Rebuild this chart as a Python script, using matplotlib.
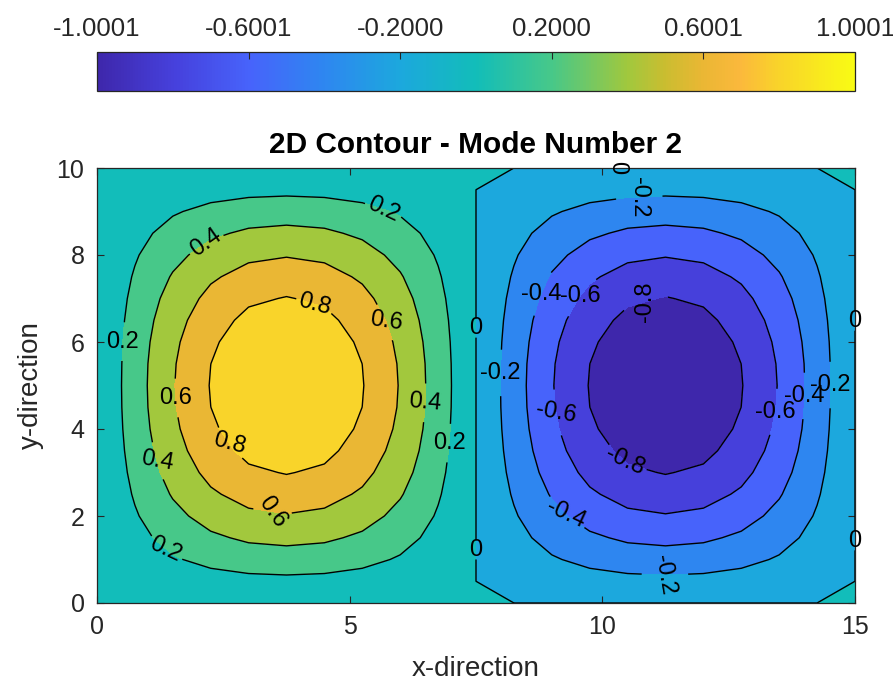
import matplotlib

matplotlib.use("Agg")
import matplotlib.pyplot as plt
import numpy as np
from matplotlib.cm import ScalarMappable
from matplotlib.colors import LinearSegmentedColormap, Normalize

# grid nodes of the mode shape (x every 0.75, y every 0.5)
x_nodes = [0.0, 0.75, 1.5, 2.25, 3.0, 3.75, 4.5, 5.25, 6.0, 6.75, 7.5,
           8.25, 9.0, 9.75, 10.5, 11.25, 12.0, 12.75, 13.5, 14.25, 15.0]
y_nodes = [0.0, 0.5, 1.0, 1.5, 2.0, 2.5, 3.0, 3.5, 4.0, 4.5, 5.0,
           5.5, 6.0, 6.5, 7.0, 7.5, 8.0, 8.5, 9.0, 9.5, 10.0]

# shape along the lobe centre lines
x_shape = [0.000, 0.309, 0.588, 0.809, 0.951, 1.000, 0.951, 0.809, 0.588, 0.309, 0.000,
           -0.309, -0.588, -0.809, -0.951, -1.000, -0.951, -0.809, -0.588, -0.309, 0.000]
y_shape = [0.000, 0.156, 0.309, 0.454, 0.588, 0.707, 0.809, 0.891, 0.951, 0.988, 1.000,
           0.988, 0.951, 0.891, 0.809, 0.707, 0.588, 0.454, 0.309, 0.156, 0.000]

contour_levels = [-0.8, -0.6, -0.4, -0.2, 0.0, 0.2, 0.4, 0.6, 0.8]
c_limits = (-1.0001, 1.0001)
cbar_ticks = [-1.0001, -0.60006, -0.20002, 0.20002, 0.60006, 1.0001]
cbar_labels = ["-1.0001", "-0.6001", "-0.2000", "0.2000", "0.6001", "1.0001"]

# where the contour labels sit in the original, and how they are turned
label_spots = [
    (5.56, 8.65), (2.15, 8.28), (4.25, 6.62), (5.48, 6.37), (0.61, 6.0),
    (1.53, 4.71), (6.52, 4.6), (7.12, 3.66), (2.58, 3.63), (1.18, 3.26),
    (3.47, 2.07), (1.43, 1.33),
    (10.29, 9.98), (10.73, 9.36), (8.51, 7.26), (9.34, 7.26), (10.83, 7.0),
    (7.32, 6.32), (14.97, 6.48), (7.92, 5.29), (14.47, 5.01), (14.01, 4.76),
    (9.16, 4.39), (13.42, 4.39), (10.57, 3.4), (9.46, 2.25), (8.05, 1.22),
    (11.24, 0.69), (14.96, 1.43),
]
label_angles = [
    -25, 35, -15, -8, 0,
    0, -5, 0, -15, -10,
    -55, -25,
    -90, -90, 0, 0, 90,
    0, 0, 0, 0, 0,
    -10, 0, -25, -25, 0,
    -80, 0,
]

# parula-like colormap
parula_stops = [
    (0.00, "#3e27ab"), (0.10, "#4640dc"), (0.20, "#4763fb"), (0.30, "#2e87f0"),
    (0.40, "#1ca8dd"), (0.50, "#12bdb9"), (0.60, "#47c889"), (0.70, "#a0c83e"),
    (0.75, "#cabd30"), (0.80, "#eab734"), (0.85, "#fbb83c"), (0.90, "#f9d32a"),
    (1.00, "#f9fb14"),
]
parula = LinearSegmentedColormap.from_list("parula", parula_stops, N=256)

plt.rcParams["font.family"] = ["Liberation Sans", "DejaVu Sans"]
text_color = "#262626"

Z = np.outer(y_shape, x_shape)
norm = Normalize(*c_limits)

# MATLAB treats a value equal to a level as above it; nudge the zero level
line_levels = [lv if lv != 0 else -1e-6 for lv in contour_levels]
fill_levels = [c_limits[0]] + line_levels + [c_limits[1]]
band_colors = [parula(norm(lv)) for lv in fill_levels[:-1]]
label_fmt = {
    lv: ("0" if orig == 0 else f"{orig:g}")
    for lv, orig in zip(line_levels, contour_levels)
}

fig = plt.figure(figsize=(8.93, 6.86), dpi=100)
ax = fig.add_axes([97 / 893, 83 / 686, 758 / 893, 435 / 686])
cax = fig.add_axes([97 / 893, 595 / 686, 758 / 893, 39 / 686])

ax.contourf(x_nodes, y_nodes, Z, levels=fill_levels, colors=band_colors)
cs = ax.contour(x_nodes, y_nodes, Z, levels=line_levels, colors="k",
                linewidths=1.0, linestyles="solid")
labels = ax.clabel(cs, manual=label_spots, fmt=label_fmt, fontsize=17,
                   inline=True, inline_spacing=3)
for txt, ang in zip(labels, label_angles):
    txt.set_rotation(ang)
    txt.set_clip_on(False)

ax.set_xlim(0, 15)
ax.set_ylim(0, 10)
ax.set_xticks([0, 5, 10, 15])
ax.set_yticks([0, 2, 4, 6, 8, 10])
ax.tick_params(direction="in", length=5, width=0.8, top=True, right=True,
               labelsize=18, colors=text_color, pad=9)
for sp in ax.spines.values():
    sp.set_color(text_color)
    sp.set_linewidth(0.9)
ax.set_xlabel("x-direction", fontsize=20, color=text_color, labelpad=12)
ax.set_ylabel("y-direction", fontsize=20, color=text_color, labelpad=9)
ax.set_title("2D Contour - Mode Number 2", fontsize=21.5, fontweight="bold", pad=11)

sm = ScalarMappable(norm=norm, cmap=parula)
cbar = fig.colorbar(sm, cax=cax, orientation="horizontal")
cax.xaxis.set_ticks_position("top")
cax.xaxis.set_label_position("top")
cbar.set_ticks(cbar_ticks)
cbar.set_ticklabels(cbar_labels)
cax.tick_params(direction="in", length=5, width=0.8, labelsize=18.5,
                colors=text_color, pad=8)
cbar.outline.set_edgecolor(text_color)
cbar.outline.set_linewidth(0.9)

fig.savefig("out.png", dpi=100)
